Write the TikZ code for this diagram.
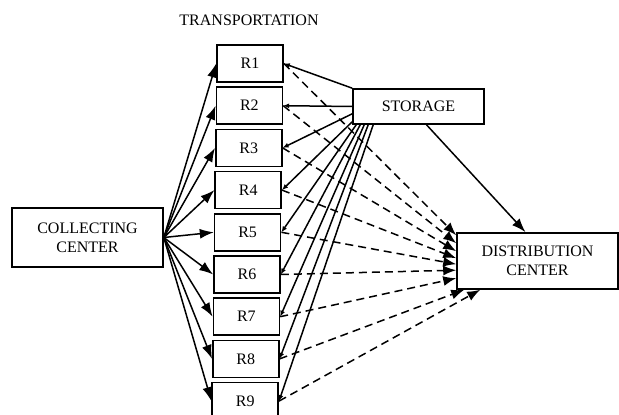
\documentclass[tikz,border=0pt]{standalone}
\usepackage{fontspec}
\setmainfont{Liberation Serif}
\usetikzlibrary{arrows.meta, calc}
\tikzstyle{box}=[draw, line width=0.8pt, align=center, inner sep=0pt, font=\fontsize{8}{9.5}\selectfont]
\tikzstyle{feed}=[line width=0.75pt, -{Latex[length=7pt,width=5pt]}]
\tikzstyle{back}=[line width=0.75pt, -{Latex[length=3pt,width=2.5pt]}]
\tikzstyle{ship}=[line width=0.75pt, dash pattern=on 4pt off 2.5pt, -{Latex[length=6.5pt,width=5pt]}]

\begin{document}
\begin{tikzpicture}[x=0.5pt, y=-0.5pt]
    \useasboundingbox (0,0) rectangle (619,415);
    \node[font=\fontsize{8}{9.5}\selectfont] (trans) at (249,20) {TRANSPORTATION};
    \node[box, minimum width=75.5pt, minimum height=29.5pt] (collect) at (87.5,237.5) {COLLECTING\\CENTER};
    \node[box, minimum width=65.5pt, minimum height=17.5pt] (storage) at (418.5,106.5) {STORAGE};
    \node[box, minimum width=80.5pt, minimum height=28pt] (dist) at (537.5,261) {DISTRIBUTION\\CENTER};
    \foreach \i in {1,...,9}
        \node[box, minimum width=33pt, minimum height=18.5pt] (r\i) at ({250-0.6*(\i-1)},{63.5+42.2*(\i-1)}) {R\i};

    % where the lines leave storage and reach the distribution center
    \coordinate (s1) at (storage.north west);
    \coordinate (s2) at (storage.west);
    \foreach \i/\dx/\dy in {3/0/-11, 4/0/-3, 5/4/0, 6/8/0, 7/12/0, 8/16/0, 9/21/0}
        \coordinate (s\i) at ($(storage.south west)+(\dx,\dy)$);
    \foreach \i/\dy in {1/3, 2/11, 3/19, 4/26, 5/32, 6/38, 7/46}
        \coordinate (d\i) at ($(dist.north west)+(0,\dy)$);
    \coordinate (d8) at ($(dist.south west)+(8,0)$);
    \coordinate (d9) at ($(dist.south west)+(24,0)$);
    \coordinate (sout) at ($(storage.south)+(8,0)$);
    \coordinate (din) at ($(dist.north)+(-12,0)$);

    \foreach \i in {1,...,9} {
        \draw[feed] (collect.east) -- (r\i.west);
        \draw[back] (s\i) -- (r\i.east);
        \draw[ship] (r\i.east) -- (d\i);
    }
    \draw[feed] (sout) -- (din);
\end{tikzpicture}
\end{document}
